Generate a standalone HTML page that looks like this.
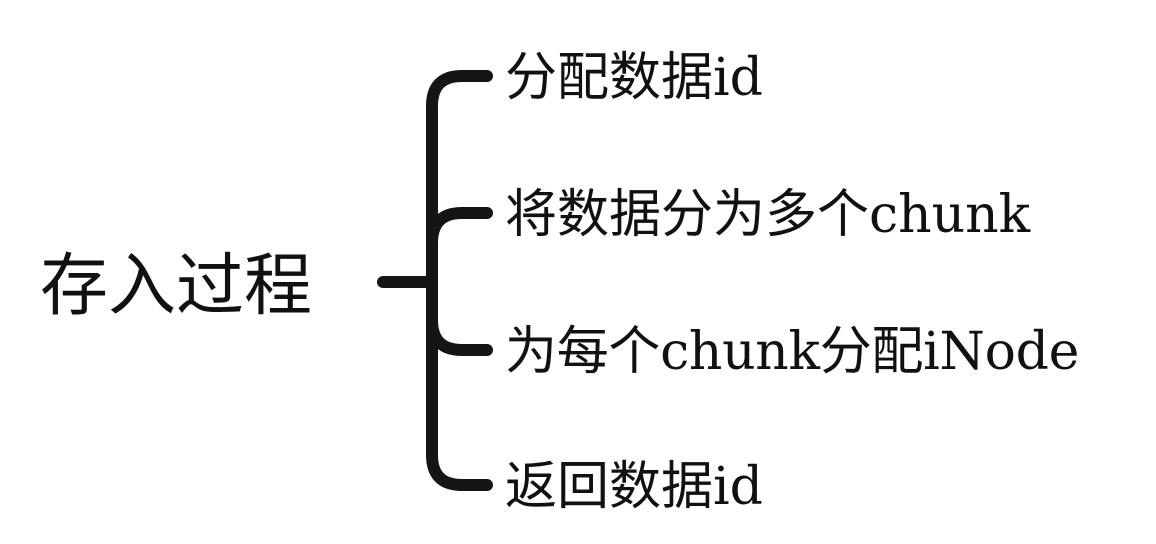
<!DOCTYPE html>
<html><head><meta charset="utf-8"><style>
html,body{margin:0;padding:0;background:#fff;width:1156px;height:544px;overflow:hidden;position:relative}
.t{position:absolute;white-space:nowrap;color:#111;font-family:"DejaVu Serif","Noto Sans CJK SC",serif;font-size:52px;line-height:60px;height:60px}
</style></head><body>
<svg width="1156" height="544" style="position:absolute;left:0;top:0">
<g fill="none" stroke="#151515" stroke-width="12" stroke-linecap="round">
<path d="M383 282 H432"/>
<path d="M487 76 H462 Q432 76 432 106 V455 Q432 485 462 485 H487"/>
<path d="M487 213 H462 Q432 213 432 243"/>
<path d="M487 350 H462 Q432 350 432 320"/>
</g>
</svg>
<div class="t" style="left:40px;top:244px;font-size:68px;line-height:72px;height:72px;font-family:'Noto Sans CJK SC',sans-serif">存入过程</div>
<div class="t" style="left:505px;top:48px">分配数据id</div>
<div class="t" style="left:505px;top:185px">将数据分为多个chunk</div>
<div class="t" style="left:505px;top:322px;letter-spacing:-0.3px">为每个chunk分配iNode</div>
<div class="t" style="left:505px;top:457px">返回数据id</div>
</body></html>
